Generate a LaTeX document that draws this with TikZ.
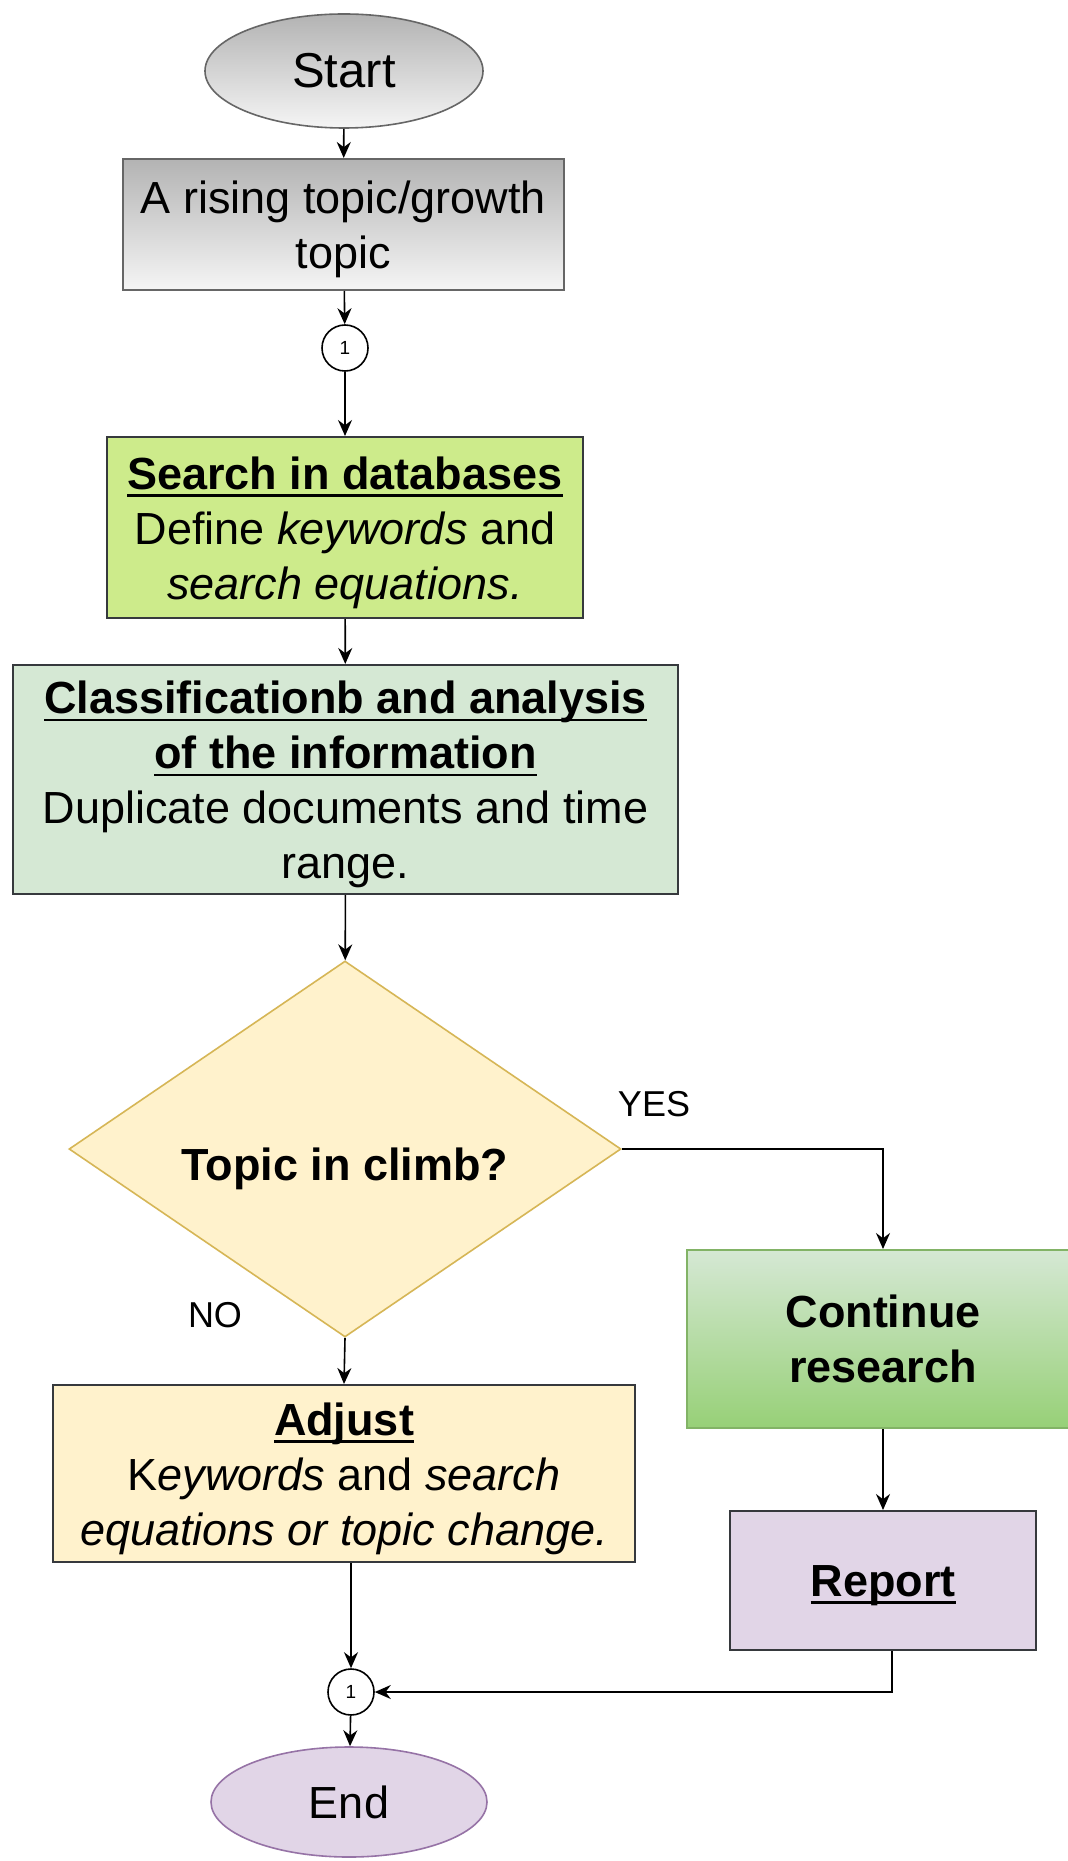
\documentclass[tikz,border=0pt]{standalone}
\usepackage{fontspec}
\setmainfont{Liberation Sans}
\usetikzlibrary{shapes.geometric,arrows.meta,calc}
\newsavebox\myulbox
\newcommand\myul[1]{\sbox\myulbox{#1}\rlap{\rule[-3.8pt]{\wd\myulbox}{1.3pt}}\usebox\myulbox}
\definecolor{strk}{HTML}{36393D}
\definecolor{gborder}{HTML}{666666}
\definecolor{gtop}{HTML}{B3B3B3}
\definecolor{gbot}{HTML}{F5F5F5}
\definecolor{lime}{HTML}{CDEB8B}
\definecolor{lgreen}{HTML}{D5E8D4}
\definecolor{dgreen}{HTML}{97D077}
\definecolor{gstroke}{HTML}{82B366}
\definecolor{lyellow}{HTML}{FFF2CC}
\definecolor{ystroke}{HTML}{D6B656}
\definecolor{lpurple}{HTML}{E1D5E7}
\definecolor{pstroke}{HTML}{9673A6}
\tikzset{
  every node/.style={font=\fontsize{22.5}{27.5}\selectfont, align=center, text=black},
  boxnode/.style={rectangle, draw=strk, line width=1pt, inner sep=0pt},
  conn/.style={circle, draw=black, fill=white, minimum size=23pt, inner sep=0pt, line width=0.8pt, font=\fontsize{9.5}{10}\selectfont},
  arr/.style={-{Stealth[length=8pt,width=7pt]}, line width=0.8pt, draw=black},
  lbl/.style={font=\fontsize{18}{20}\selectfont},
  txt/.style={label={[yshift=-2.5pt, align=center]center:{#1}}},
  txtlow/.style={label={[yshift=-10pt, align=center]center:{#1}}}
}
\begin{document}
\begin{tikzpicture}[x=0.5pt,y=-0.5pt]
\useasboundingbox (0,0) rectangle (1068,1861);
\fill[white] (0,0) rectangle (1068,1861);

\node[ellipse, draw=gborder, line width=0.8pt, top color=gtop, bottom color=gbot, minimum width=139pt, minimum height=57pt, inner sep=0pt, font=\fontsize{24.5}{29}\selectfont] (start) at (344,71) {Start};

\node[boxnode, draw=gborder, top color=gtop, bottom color=gbot, minimum width=220.5pt, minimum height=65.5pt,
  txt={A rising topic/growth\\topic}] (topic) at (343.5,224.5) {};

\node[conn] (c1) at (345,348) {1};

\node[boxnode, fill=lime, minimum width=238pt, minimum height=90.5pt,
  txt={\textbf{\myul{Search in databases}}\\Define \textit{keywords} and\\\textit{search equations.}}] (search) at (345,527.5) {};

\node[boxnode, fill=lgreen, minimum width=332.5pt, minimum height=114.5pt,
  txt={\textbf{\myul{Classificationb and analysis}}\\\textbf{\myul{of the information}}\\Duplicate documents and time\\range.}] (classif) at (345.5,779.5) {};

\node[diamond, draw=ystroke, fill=lyellow, line width=0.8pt, minimum width=276pt, minimum height=188pt, inner sep=0pt,
  txtlow={\textbf{Topic in climb?}}] (dia) at (345,1149) {};

\node[lbl] (yes) at (654,1104) {YES};
\node[lbl] (no) at (215,1315) {NO};

\node[boxnode, draw=gstroke, top color=lgreen, bottom color=dgreen, minimum width=196pt, minimum height=89pt] (cont) at (883,1339)
  {\textbf{Continue}\\\textbf{research}};

\node[boxnode, fill=lyellow, minimum width=291pt, minimum height=88.5pt,
  txt={\textbf{\myul{Adjust}}\\K\textit{eywords} and \textit{search}\\\textit{equations or topic change.}}] (adjust) at (344,1473.5) {};

\node[boxnode, fill=lpurple, minimum width=153pt, minimum height=69.5pt,
  txt={\textbf{\myul{Report}}}] (report) at (883,1580.5) {};

\node[conn] (c2) at (351,1692) {1};

\node[ellipse, draw=pstroke, fill=lpurple, line width=0.8pt, minimum width=138pt, minimum height=55pt, inner sep=0pt] (end) at (349,1802) {End};

\draw[arr] (start) -- (topic);
\draw[arr] (topic) -- (c1);
\draw[arr] (c1) -- (search);
\draw[arr] (search) -- (classif);
\draw[arr] (classif) -- (dia);
\draw[arr] (dia.east) -| (cont.north);
\draw[arr] (dia.south) -- (adjust.north);
\draw[arr] (cont) -- (report);
\draw[arr] (c2 |- adjust.south) -- (c2);
\draw[arr] ($(report.south)+(9,0)$) |- (c2.east);
\draw[arr] (c2) -- (end);
\end{tikzpicture}
\end{document}
